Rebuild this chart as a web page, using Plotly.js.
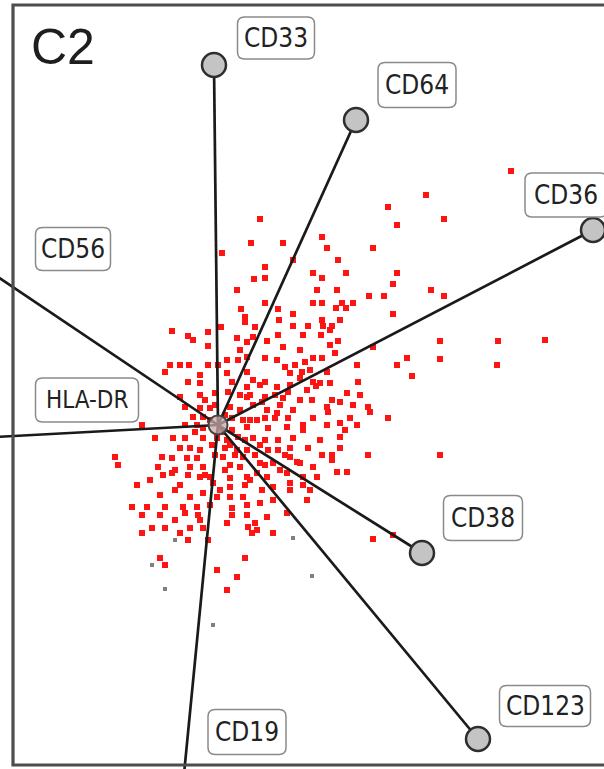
<!DOCTYPE html>
<html>
<head>
<meta charset="utf-8">
<script src="https://cdn.plot.ly/plotly-3.0.1.min.js"></script>
<style>
html,body{margin:0;padding:0;background:#fff;}
#chart{width:604px;height:769px;}
</style>
</head>
<body>
<div id="chart"></div>
<script>
// ---- Data (scores and loadings, centred units) ----
const panelLabel = "C2";
const markerNames = ["CD33","CD64","CD36","CD56","HLA-DR","CD38","CD123","CD19"];
const loadingX = [-4, 138, 375, -266, -260, 204, 260, -37];
const loadingY = [360, 305, 195, 179, -14, -128, -314, -380];

const scoreX = [
293,208,226,170,179,104,65,109,155,42,33,4,36,19,23,27,27,37,-46,-10,3,-30,-25,-10,19,29,35,
120,47,75,95,104,128,47,179,175,99,119,151,166,47,95,104,124,135,118,128,60,75,175,61,104,122,75,90,105,114,60,85,103,112,49,120,65,155,
213,226,222,222,280,279,194,327,
-48,-38,-29,-10,0,9,20,29,-53,-18,9,29,-30,-18,14,29,35,-3,10,-38,-18,29,-33,-18,-8,12,22,35,-25,-15,14,25,39,-76,-21,-15,29,
-63,-45,-33,-15,-1,9,20,35,-38,-28,-18,7,19,29,-103,-100,-56,-46,-31,-21,5,25,-60,-43,-28,-15,12,22,-55,-46,-30,-18,-8,12,29,-81,-38,-5,12,27,-28,-15,-1,12,25,
95,104,117,139,179,189,84,67,47,59,72,109,112,95,102,140,47,59,70,89,129,47,82,94,114,122,135,150,152,109,49,59,75,110,132,170,139,57,70,95,85,109,122,50,69,85,
47,60,75,122,90,122,72,60,104,114,150,72,114,79,55,95,119,129,85,99,72,85,49,55,72,92,
42,39,69,82,89,55,42,49,69,39,55,30,
-86,-71,-53,-35,-21,-8,14,29,-76,-58,-33,-20,14,29,-66,-53,-38,-28,-15,9,37,-76,-30,-10,34,-58,-53,27,-1,19,9,222,155,175,
4,14,-6,17,42,37,57,65,77,87,98,32,44,7,-8,-3,-13,50,62,44,
-13,-3,-23,-33,12,27,32,47,62,72,82,92,42,22,7,2,32,-43,-58,-68,-18,-43,47,67,102,127,142,112,82,22
];
const scoreY = [
254,230,206,218,200,188,182,177,177,206,182,172,146,135,116,108,103,98,94,93,98,89,85,79,87,83,88,
165,158,165,152,147,152,147,152,141,135,135,129,129,122,122,122,122,122,117,117,116,111,111,105,105,105,99,99,99,99,90,90,90,95,84,84,78,78,
135,129,84,66,84,60,49,85,
60,60,60,60,60,65,65,68,53,50,52,53,43,42,43,38,45,32,33,28,30,28,18,17,17,18,15,20,8,8,7,5,5,0,0,-3,-2,
-13,-13,-13,-13,-13,-15,-12,-13,-23,-23,-25,-23,-25,-25,-32,-40,-32,-33,-33,-33,-32,-32,-42,-45,-42,-42,-40,-42,-50,-48,-50,-52,-52,-53,-52,-60,-60,-58,-62,-60,-72,-68,-72,-72,-72,
67,67,72,60,60,67,53,58,67,65,52,53,42,43,42,43,43,38,33,35,32,28,25,25,25,23,20,18,13,18,15,12,15,13,7,7,0,7,7,7,0,0,2,-3,-2,-5,
-15,-15,-13,-12,-23,-23,-23,-25,-30,-30,-30,-32,-35,-37,-38,-42,-47,-47,-52,-52,-58,-60,-52,-62,-65,-65,
-38,-48,-48,-38,-75,-75,-78,-92,-88,-105,-108,-102,
-82,-82,-82,-82,-82,-80,-83,-80,-90,-90,-88,-90,-90,-90,-103,-103,-108,-103,-103,-98,-98,-108,-115,-115,-108,-133,-140,-133,-145,-152,-165,-30,-114,-110,
-7,-5,-20,-30,-20,-30,30,27,60,63,39,30,23,10,5,-30,-50,-25,-45,-65,
25,20,-7,0,-20,-15,5,7,20,40,47,55,40,30,-45,-65,-55,-65,-70,-55,-95,-95,-40,-30,-15,-5,30,80,75,75
];
// minor (grey) events
const greyX = [-43, -66, -53, -5, 94, 75];
const greyY = [-115, -140, -164, -200, -151, -113];

// ---- Layout helpers (label placement, pixel-scaled axes: 1 unit = 1px) ----
const labelPos = {
  "CD33":[58,387,77,42], "CD64":[199,340,78,45], "CD36":[348,230,82,44],
  "CD56":[-145,176,75,43], "HLA-DR":[-131,25,103,44], "CD38":[265,-93,79,45],
  "CD123":[327,-281,91,41], "CD19":[29,-307,78,45]
};
function roundRect(cx, cy, w, h, r){
  const x0=cx-w/2, x1=cx+w/2, y0=cy-h/2, y1=cy+h/2;
  return `M${x0+r},${y0} L${x1-r},${y0} Q${x1},${y0} ${x1},${y0+r} L${x1},${y1-r} Q${x1},${y1} ${x1-r},${y1} L${x0+r},${y1} Q${x0},${y1} ${x0},${y1-r} L${x0},${y0+r} Q${x0},${y0} ${x0+r},${y0} Z`;
}

const traces = [];
traces.push({x: scoreX, y: scoreY, type:'scatter', mode:'markers',
  marker:{symbol:'square', size:6, color:'#ff1414', line:{width:0}}, hoverinfo:'skip'});
traces.push({x: greyX, y: greyY, type:'scatter', mode:'markers',
  marker:{symbol:'square', size:4, color:'#808080', line:{width:0}}, hoverinfo:'skip'});
markerNames.forEach((n,i)=>{
  traces.push({x:[0, loadingX[i]], y:[0, loadingY[i]], type:'scatter', mode:'lines',
    line:{color:'#1a1a1a', width:2.7}, hoverinfo:'skip'});
});
traces.push({x: loadingX, y: loadingY, type:'scatter', mode:'markers',
  marker:{size:24, color:'#c4c4c4', line:{color:'#2e2e2e', width:2.5}}, hoverinfo:'skip'});
traces.push({x:[0], y:[0], type:'scatter', mode:'markers',
  marker:{size:19, color:'rgba(200,170,170,0.75)', line:{color:'#444', width:2}}, hoverinfo:'skip'});

const shapes = [];
const annotations = [];
markerNames.forEach(n=>{
  const p = labelPos[n];
  shapes.push({type:'path', xref:'x', yref:'y', path: roundRect(p[0],p[1],p[2],p[3],7),
    line:{color:'#8a8a8a', width:1.5}, fillcolor:'#ffffff', layer:'above'});
  annotations.push({x:p[0], y:p[1], xref:'x', yref:'y', text:n, showarrow:false,
    font:{family:'DejaVu Sans Condensed, DejaVu Sans, sans-serif', size: n==='HLA-DR'?24:26, color:'#222'},
    xanchor:'center', yanchor:'middle'});
});
// frame
shapes.push({type:'rect', xref:'x', yref:'y', x0:-205, x1:450, y0:420, y1:-340,
  line:{color:'#4d4d4d', width:3.2}, fillcolor:'rgba(0,0,0,0)', layer:'above'});
annotations.push({x:-155, y:378, xref:'x', yref:'y', text:panelLabel, showarrow:false,
  font:{family:'Liberation Sans, Arial, sans-serif', size:50, color:'#1e1e1e'},
  xanchor:'center', yanchor:'middle'});

const layout = {
  width:604, height:769,
  margin:{l:0,r:0,t:0,b:0,pad:0},
  paper_bgcolor:'#ffffff', plot_bgcolor:'#ffffff',
  showlegend:false,
  xaxis:{range:[-218,386], visible:false, fixedrange:true},
  yaxis:{range:[-344,425], visible:false, fixedrange:true},
  shapes: shapes,
  annotations: annotations,
  hovermode:false
};
Plotly.newPlot('chart', traces, layout, {displayModeBar:false, staticPlot:true});
</script>
</body>
</html>
